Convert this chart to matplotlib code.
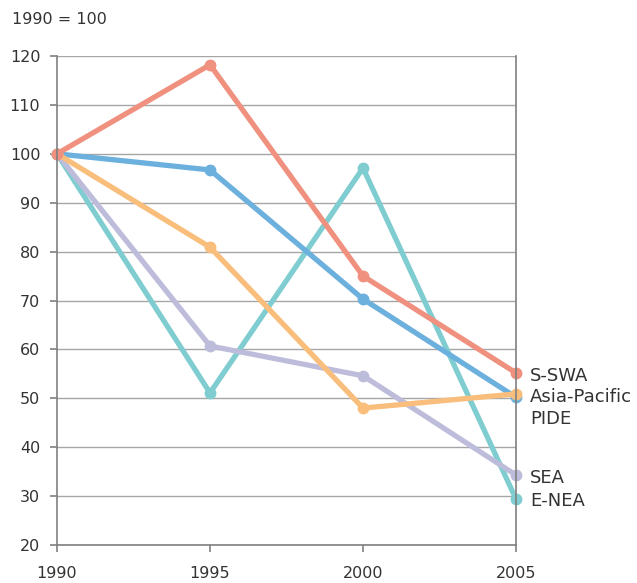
import matplotlib
matplotlib.use("Agg")
import matplotlib.pyplot as plt

years = [1990, 1995, 2000, 2005]
series_names = ["E-NEA", "SEA", "Asia-Pacific", "PIDE", "S-SWA"]
e_nea = [100, 51.1, 97.1, 29.4]
sea = [100, 60.7, 54.6, 34.3]
asia_pacific = [100, 96.7, 70.3, 50.2]
pide = [100, 80.9, 48.0, 50.9]
s_swa = [100, 118.2, 75.0, 55.2]
values = [e_nea, sea, asia_pacific, pide, s_swa]
colors = ["#7FCDD1", "#BDBDDB", "#6CB0DD", "#F9BE7B", "#F0907F"]

label_pos = {"S-SWA": 54.6, "Asia-Pacific": 50.2, "PIDE": 45.7, "SEA": 33.8, "E-NEA": 29.1}

plt.rcParams['font.family'] = ['DejaVu Sans']
fig = plt.figure(figsize=(6.37, 5.83), dpi=100)
ax = fig.add_axes([57/637, 1-545/583, (516-57)/637, (545-56)/583])

for name, vals, c in zip(series_names, values, colors):
    ax.plot(years, vals, color=c, lw=3.8, marker='o', ms=7.5, solid_capstyle='round', clip_on=False)

for name, y in label_pos.items():
    ax.text(2005.45, y, name, fontsize=13, color="#333333", va='center', ha='left')

ax.set_xlim(1990, 2005)
ax.set_ylim(20, 120)
ax.set_xticks(years)
ax.set_yticks(range(20, 121, 10))
ax.yaxis.grid(True, color="#A6A6A6", lw=1)
ax.set_axisbelow(True)
for s in ['left', 'bottom', 'right']:
    ax.spines[s].set_color("#808080")
    ax.spines[s].set_linewidth(1.2)
ax.spines['top'].set_visible(False)
ax.tick_params(axis='both', colors="#808080", labelcolor="#333333", labelsize=11.5, length=5, width=1.2)
ax.tick_params(axis='x', pad=10)
ax.tick_params(axis='y', pad=7)
fig.text(12/637, 1-20/583, "1990 = 100", fontsize=11.5, color="#333333", va='center', ha='left')

fig.savefig("out.png", dpi=100)
